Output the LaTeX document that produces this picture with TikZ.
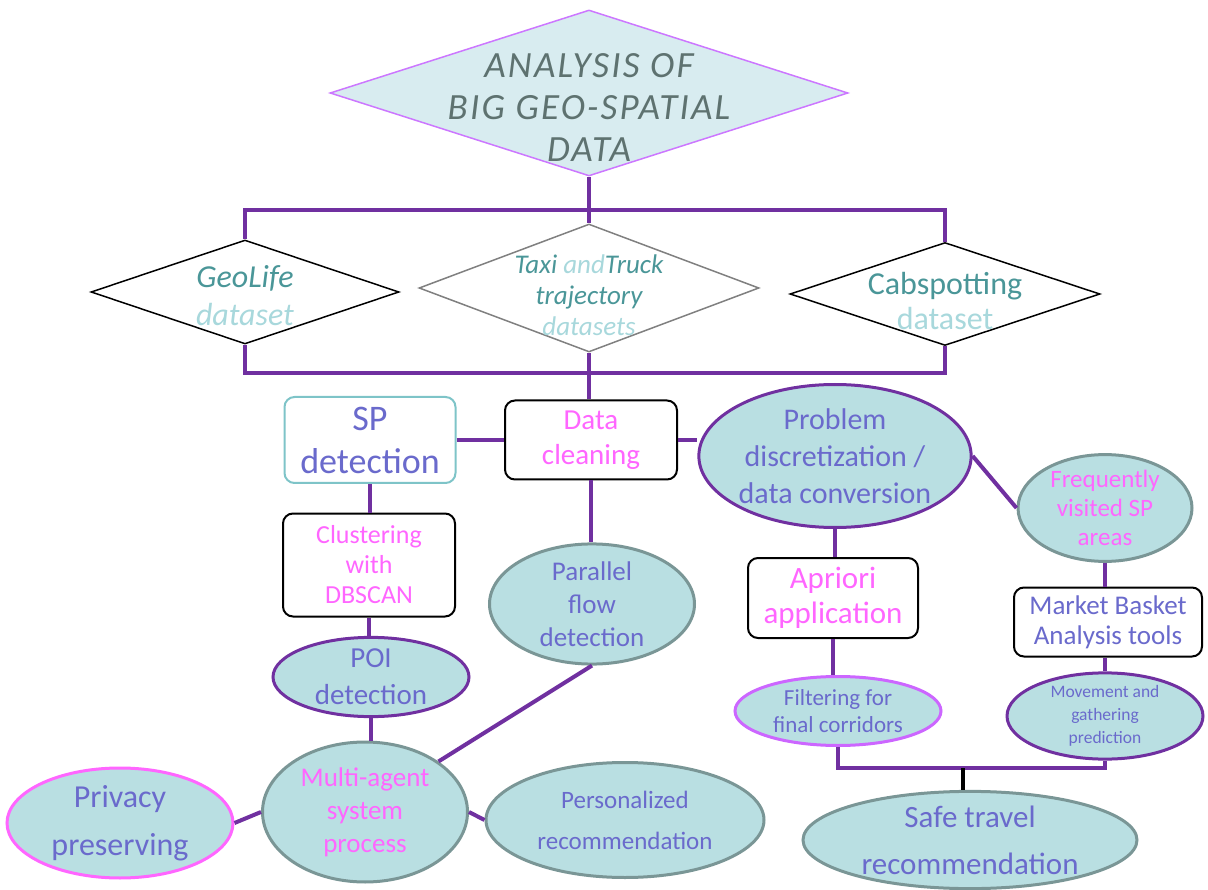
\documentclass[tikz,border=0pt]{standalone}
\usepackage{fontspec}
\setmainfont{Carlito}
\usetikzlibrary{shapes.geometric}
\definecolor{purpleline}{RGB}{112,48,160}
\definecolor{tealfill}{RGB}{185,223,226}
\definecolor{titlefill}{RGB}{216,236,240}
\definecolor{titleborder}{RGB}{204,119,255}
\definecolor{titletext}{RGB}{94,114,112}
\definecolor{darkteal}{RGB}{74,150,152}
\definecolor{lightteal}{RGB}{168,216,220}
\definecolor{pinktext}{RGB}{255,102,255}
\definecolor{bluetext}{RGB}{106,106,204}
\definecolor{grayborder}{RGB}{122,150,150}
\definecolor{spborder}{RGB}{126,196,200}
\definecolor{violetborder}{RGB}{204,102,255}
\newcommand{\fs}[2]{\fontsize{#1}{#2}\selectfont}
\begin{document}
\begin{tikzpicture}[x=1pt,y=-1pt,
  conn/.style={draw=purpleline,line width=4pt},
  dia/.style={diamond,draw,line width=1.5pt,inner sep=0pt},
  box/.style={rectangle,draw=black,line width=2pt,rounded corners=10pt,fill=white,inner sep=0pt},
  oval/.style={ellipse,fill=tealfill,line width=3pt,inner sep=0pt},
  txt/.style={align=center,inner sep=0pt}]
\useasboundingbox (0,0) rectangle (1208,890);

% diamonds
\node[dia,draw=titleborder,fill=titlefill,minimum width=518pt,minimum height=166pt] (title) at (589,93) {};
\node[txt,text=titletext,font=\fs{37}{42}\itshape\addfontfeatures{LetterSpace=6}] (titlet) at (589,107) {ANALYSIS OF\\BIG GEO-SPATIAL\\DATA};

\node[dia,draw=black,fill=white,minimum width=308pt,minimum height=104pt] (geo) at (245,292) {};
\node[txt,font=\fs{32}{38}\itshape] (geot) at (245,296) {\textcolor{darkteal}{GeoLife}\\\textcolor{lightteal}{dataset}};

\node[dia,draw=gray,fill=white,minimum width=340pt,minimum height=128pt] (taxi) at (589,288) {};
\node[txt,font=\fs{27}{31}\itshape] (taxit) at (589,295) {\textcolor{darkteal}{Taxi }\textcolor{lightteal}{and}\textcolor{darkteal}{Truck}\\\textcolor{darkteal}{trajectory}\\\textcolor{lightteal}{datasets}};

\node[dia,draw=black,fill=white,minimum width=310pt,minimum height=103pt] (cab) at (945,294) {};
\node[txt,font=\fs{32}{35}] (cabt) at (945,301) {\textcolor{darkteal}{Cabspotting}\\\textcolor{lightteal}{dataset}};

% boxes
\node[box,draw=spborder,minimum width=171pt,minimum height=86pt,text=bluetext,align=center,font=\fs{36}{43}] (sp) at (370,440) {SP\\detection};
\node[box,minimum width=172pt,minimum height=79pt,text=pinktext,align=center,font=\fs{29}{35}] (clean) at (591,440) {Data\\cleaning};
\node[box,minimum width=172pt,minimum height=103pt,text=pinktext,align=center,font=\fs{26}{30}] (clust) at (369,565) {Clustering\\with\\DBSCAN};
\node[box,minimum width=170pt,minimum height=80pt,text=pinktext,align=center,font=\fs{31}{35}] (apri) at (833,598) {Apriori\\application};
\node[box,minimum width=188pt,minimum height=69pt,text=bluetext,align=center,font=\fs{27}{30}] (mkt) at (1108,622) {Market Basket\\Analysis tools};

% ovals
\node[oval,draw=purpleline,minimum width=264pt,minimum height=143pt,text=bluetext,align=center,font=\fs{30}{37}] (prob) at (835,456) {Problem\\discretization /\\data conversion};
\node[oval,draw=grayborder,minimum width=174pt,minimum height=95pt,text=pinktext,align=center,font=\fs{25}{29}] (freq) at (1105,508) {Frequently\\visited SP\\areas};
\node[oval,draw=purpleline,minimum width=196pt,minimum height=68pt,text=bluetext,align=center,font=\fs{17.5}{23}] (mov) at (1105,716) {Movement and\\gathering\\prediction};
\node[oval,draw=violetborder,minimum width=206pt,minimum height=69pt,text=bluetext,align=center,font=\fs{23}{27}] (filt) at (838,711) {Filtering for\\final corridors};
\node[oval,draw=grayborder,minimum width=334pt,minimum height=97pt,text=bluetext,align=center,font=\fs{31}{47}] (safe) at (970,840) {Safe travel\\recommendation};
\node[oval,draw=purpleline,minimum width=196pt,minimum height=78pt,text=bluetext,align=center,font=\fs{29}{37}] (poi) at (371,677) {POI\\detection};
\node[oval,draw=grayborder,minimum width=205pt,minimum height=115pt,text=bluetext,align=center,font=\fs{27}{33}] (par) at (592,604) {Parallel\\flow\\detection};
\node[oval,draw=grayborder,minimum width=205pt,minimum height=140pt,text=pinktext,align=center,font=\fs{27}{33}] (multi) at (365,812) {Multi-agent\\system\\process};
\node[oval,draw=pinktext,minimum width=226pt,minimum height=110pt,text=bluetext,align=center,font=\fs{32}{48}] (priv) at (120,823) {Privacy\\preserving};
\node[oval,draw=grayborder,minimum width=278pt,minimum height=115pt,text=bluetext,align=center,font=\fs{25}{41}] (pers) at (625,820) {Personalized\\recommendation};

% connectors
\coordinate (h1) at (589,210);
\coordinate (h2) at (589,373);
\coordinate (h3) at (963,768);
\draw[conn] (title.south) -- (taxi.north);
\draw[conn] (geo.north) |- (h1) -| (cab.north);
\draw[conn] (geo.south) |- (h2) -| (cab.south);
\draw[conn] (taxi.south) -- (taxi.south |- clean.north);
\draw[conn] (sp.east) -- (clean.west);
\draw[conn] (clean.east) -- (clean.east -| prob.west);
\draw[conn] (prob.east) -- (freq.west);
\draw[conn] (freq.south) -- (freq.south |- mkt.north);
\draw[conn] (mkt.south -| mov.north) -- (mov.north);
\draw[conn] (prob.south) -- (prob.south |- apri.north);
\draw[conn] (apri.south) -- (apri.south |- filt.north);
\draw[conn] (filt.south) |- (h3) -| (mov.south);
\draw[line width=4pt,black] (h3) -- (h3 |- safe.north);
\draw[conn] (sp.south) -- (sp.south |- clust.north);
\draw[conn] (clust.south) -- (clust.south |- poi.north);
\draw[conn] (clean.south) -- (clean.south |- par.north);
\draw[conn] (poi.south) -- (poi.south |- multi.north);
\draw[conn] (par.south) -- (multi.north east);
\draw[conn] (multi.west) -- (priv.east);
\draw[conn] (multi.east) -- (pers.west);
\end{tikzpicture}
\end{document}
